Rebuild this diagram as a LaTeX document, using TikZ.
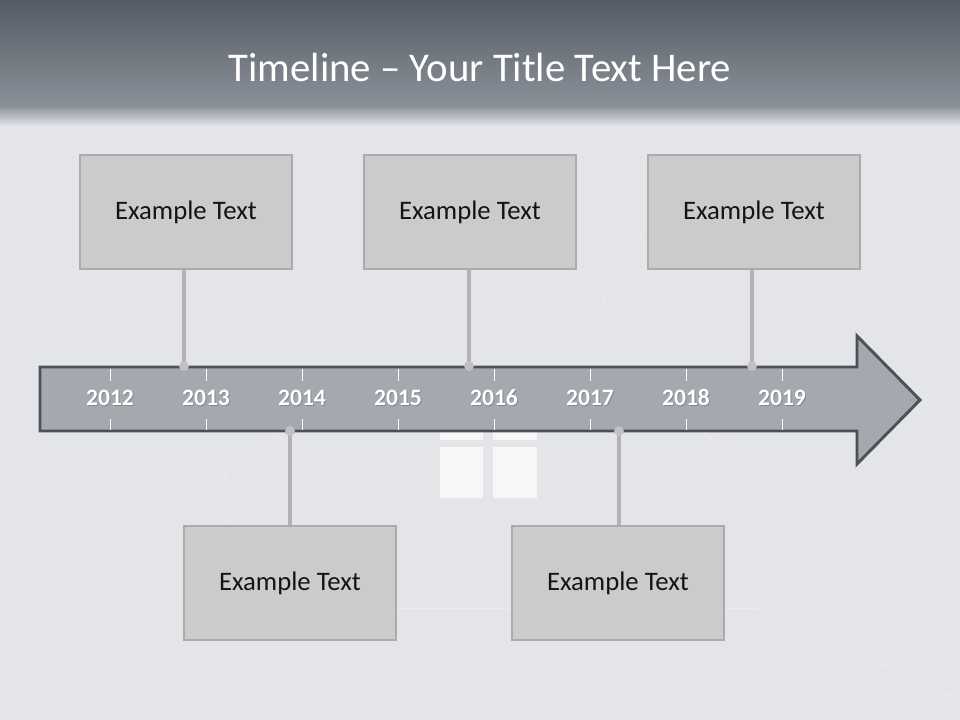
\documentclass[tikz,border=0pt]{standalone}
\usepackage{fontspec}
\setmainfont{Carlito}
\usetikzlibrary{calc}
\definecolor{roomgrey}{HTML}{E3E5E9}
\definecolor{barhigh}{HTML}{555C65}
\definecolor{barlow}{HTML}{8B9199}
\definecolor{arrowfill}{HTML}{A4A9B0}
\definecolor{arrowline}{HTML}{4C5157}
\definecolor{boxfill}{HTML}{CBCBCB}
\definecolor{boxline}{HTML}{ABABAB}
\definecolor{stemgrey}{HTML}{B2B2B2}

\tikzset{
  note/.style={draw=boxline, line width=1.8pt, fill=boxfill,
    minimum width=5.3cm, minimum height=2.85cm, inner sep=0pt,
    font=\fontsize{19}{22}\selectfont, text=black!92},
  stem/.style={stemgrey, line width=2.8pt},
  dot/.style={circle, fill=boxfill!95!black, inner sep=0pt, minimum size=7pt},
  year/.style={font=\fontsize{16.7}{19}\selectfont\bfseries, text=white,
    text height=1.6ex, text depth=0pt},
  tick/.style={white, line width=0.7pt},
  wall/.style={black!8, line width=0.7pt}
}

\begin{document}
\begin{tikzpicture}[x=0.025cm, y=-0.025cm]
    \useasboundingbox (0,0) rectangle (960,720);

    % Room in the background
    \fill[roomgrey] (0,0) rectangle (960,720);
    \draw[wall] (0,472) -- (225,472) -- (225,608) -- (0,712);
    \draw[wall] (960,472) -- (757,472) -- (757,608) -- (960,700);
    \draw[wall] (225,608) -- (757,608);
    \draw[wall] (310,190) -- (400,343) -- (580,343) -- (665,190);
    \draw[wall] (225,472) -- (330,400);
    \draw[wall] (757,472) -- (700,430);

    % Window
    \fill[white!97!black] (440,432) rectangle (483,440);
    \fill[white!97!black] (493,432) rectangle (537,440);
    \fill[white!97!black] (440,447) rectangle (483,498);
    \fill[white!97!black] (493,447) rectangle (537,498);

    % Title bar
    \shade[top color=barhigh, bottom color=barlow] (0,0) rectangle (960,106);
    \shade[top color=barlow, bottom color=roomgrey] (0,106) rectangle (960,126);
    \node[text=white, font=\fontsize{29}{34}\selectfont] (title) at (480,67)
      {Timeline -- Your Title Text Here};

    % Timeline arrow
    \draw[arrowline, line width=2.1pt, fill=arrowfill, line join=miter]
      (40,367) -- (857,367) -- (857,336) -- (920,400) -- (857,464)
      -- (857,431) -- (40,431) -- cycle;
    \coordinate (top) at (0,366);
    \coordinate (bottom) at (0,431);

    % Years and ticks
    \foreach \yr [count=\i from 0] in {2012,2013,2014,2015,2016,2017,2018,2019}{
      \draw[tick] (110+96*\i,369) -- (110+96*\i,381);
      \draw[tick] (110+96*\i,419) -- (110+96*\i,430);
      \node[year, text=black!55, opacity=0.6] at (111+96*\i,401.5) {\yr};
      \node[year] (y\yr) at (110+96*\i,400) {\yr};
    }

    % Boxes above
    \node[note] (t1) at (186,212) {Example Text};
    \node[note] (t2) at (470,212) {Example Text};
    \node[note] (t3) at (754,212) {Example Text};

    % Boxes below
    \node[note] (b1) at (290,583) {Example Text};
    \node[note] (b2) at (618,583) {Example Text};

    % Stems
    \foreach \n/\dx in {t1/-2, t2/-1, t3/-2}{
      \coordinate (s\n) at ($(\n.south)+(\dx,0)$);
      \draw[stem] (s\n) -- (s\n |- top);
      \node[dot] (p\n) at (s\n |- top) {};
    }
    \foreach \n/\dx in {b1/0, b2/1}{
      \coordinate (s\n) at ($(\n.north)+(\dx,0)$);
      \draw[stem] (s\n) -- (s\n |- bottom);
      \node[dot] (p\n) at (s\n |- bottom) {};
    }
\end{tikzpicture}
\end{document}
